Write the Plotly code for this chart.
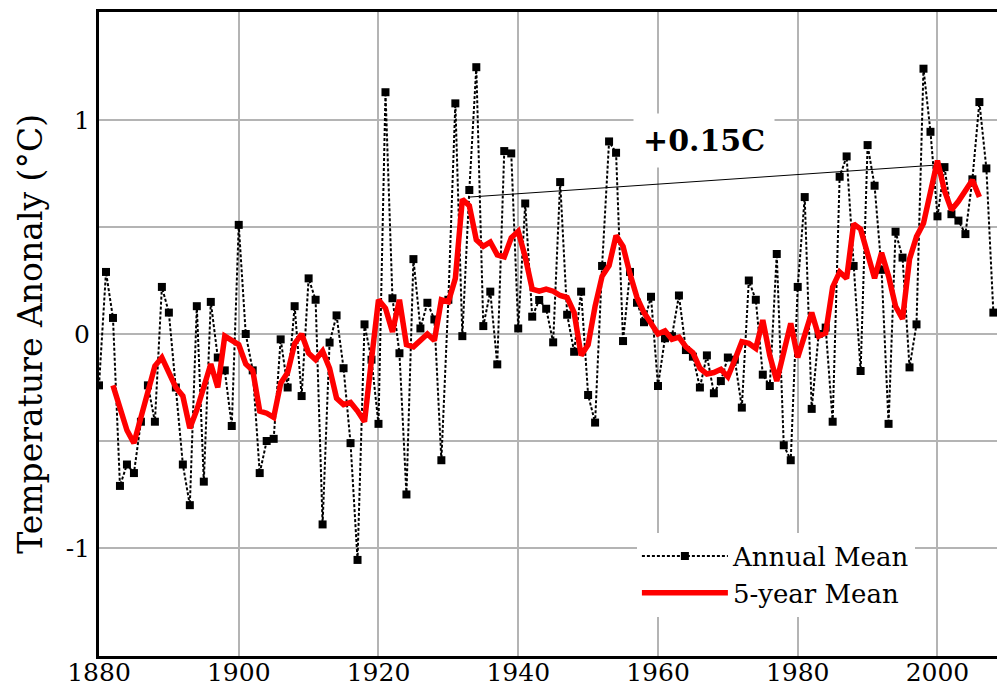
import plotly.graph_objects as go

years = list(range(1880, 2009))
annual_mean = [
    -0.24, 0.29, 0.075, -0.71, -0.61, -0.65, -0.41, -0.24, -0.41, 0.22,   # 1880-1889
    0.10, -0.25, -0.61, -0.80, 0.13, -0.69, 0.15, -0.11, -0.17, -0.43,    # 1890-1899
    0.51, 0.0, -0.17, -0.65, -0.50, -0.49, -0.025, -0.25, 0.13, -0.29,    # 1900-1909
    0.26, 0.16, -0.89, -0.04, 0.087, -0.16, -0.51, -1.056, 0.045, -0.12,  # 1910-1919
    -0.42, 1.13, 0.167, -0.09, -0.75, 0.35, 0.026, 0.146, 0.068, -0.59,   # 1920-1929
    0.16, 1.078, -0.01, 0.673, 1.247, 0.037, 0.198, -0.142, 0.855, 0.844, # 1930-1939
    0.026, 0.61, 0.081, 0.159, 0.118, -0.039, 0.71, 0.09, -0.083, 0.198,  # 1940-1949
    -0.285, -0.414, 0.318, 0.90, 0.847, -0.033, 0.29, 0.146, 0.055, 0.174,# 1950-1959
    -0.243, -0.02, -0.01, 0.18, -0.075, -0.106, -0.25, -0.10, -0.277, -0.22, # 1960-1969
    -0.11, -0.12, -0.344, 0.25, 0.16, -0.19, -0.243, 0.374, -0.52, -0.59, # 1970-1979
    0.22, 0.64, -0.35, 0.0, 0.03, -0.41, 0.735, 0.83, 0.318, -0.173,      # 1980-1989
    0.883, 0.693, 0.30, -0.42, 0.478, 0.357, -0.156, 0.045, 1.24, 0.945,  # 1990-1999
    0.55, 0.78, 0.56, 0.53, 0.467, 0.723, 1.084, 0.774, 0.10,             # 2000-2008
]

mean_years = list(range(1882, 2007))
five_year_mean = [
    -0.24, -0.35, -0.45, -0.51, -0.39, -0.25, -0.15, -0.11,               # 1882-1889
    -0.18, -0.25, -0.29, -0.44, -0.355, -0.25, -0.14, -0.25, -0.01, -0.03,# 1890-1899
    -0.05, -0.14, -0.17, -0.36, -0.37, -0.39, -0.23, -0.18, -0.045, 0.0,  # 1900-1909
    -0.09, -0.12, -0.08, -0.16, -0.30, -0.33, -0.32, -0.36, -0.41, -0.12, # 1910-1919
    0.16, 0.12, 0.01, 0.16, -0.05, -0.06, -0.03, 0.0, -0.03, 0.16,        # 1920-1929
    0.15, 0.26, 0.63, 0.60, 0.44, 0.41, 0.43, 0.37, 0.36, 0.45,           # 1930-1939
    0.48, 0.36, 0.21, 0.20, 0.21, 0.20, 0.18, 0.17, 0.10, -0.10,          # 1940-1949
    -0.05, 0.13, 0.27, 0.32, 0.46, 0.41, 0.28, 0.17, 0.10, 0.05,          # 1950-1959
    0.0, 0.015, -0.025, -0.015, -0.06, -0.087, -0.16, -0.187, -0.18, -0.165, # 1960-1969
    -0.20, -0.12, -0.036, -0.044, -0.067, 0.065, -0.10, -0.22, -0.09, 0.05,  # 1970-1979
    -0.11, -0.01, 0.10, -0.01, 0.005, 0.22, 0.29, 0.26, 0.515, 0.49,      # 1980-1989
    0.38, 0.26, 0.38, 0.27, 0.13, 0.07, 0.35, 0.455, 0.517, 0.665,        # 1990-1999
    0.81, 0.67, 0.58, 0.62, 0.665, 0.72, 0.64,                            # 2000-2006
]

trend_years = [1933, 2000]
trend_values = [0.64, 0.79]
trend_label = "+0.15C"

x_tick_vals = [1880, 1900, 1920, 1940, 1960, 1980, 2000]
y_tick_vals = [-1.0, -0.5, 0.0, 0.5, 1.0]
y_tick_text = ["-1", "", "0", "", "1"]

FONT = "DejaVu Serif"

fig = go.Figure()

fig.add_trace(go.Scatter(
    x=trend_years, y=trend_values, mode="lines",
    line=dict(color="black", width=1), showlegend=False, hoverinfo="skip",
))
fig.add_trace(go.Scatter(
    x=years, y=annual_mean, mode="lines+markers", name="Annual Mean",
    line=dict(color="black", width=2, dash="3px,2px"),
    marker=dict(symbol="square", size=8, color="black"),
))
fig.add_trace(go.Scatter(
    x=mean_years, y=five_year_mean, mode="lines", name="5-year Mean",
    line=dict(color="#ff0000", width=5.5),
))

fig.add_annotation(
    x=1966.6, y=0.905, xref="x", yref="y", text="<b>" + trend_label + "</b>",
    showarrow=False, font=dict(family=FONT, size=30, color="black"),
    bgcolor="white", borderpad=9,
)

fig.add_annotation(
    x=-0.0772, y=0.5, xref="paper", yref="paper", text="Temperature Anonaly (°C)",
    xanchor="center", yanchor="middle",
    textangle=-90, showarrow=False, font=dict(family=FONT, size=33, color="black"),
)

fig.update_layout(
    width=997, height=690,
    margin=dict(l=99, r=0, t=12, b=34, autoexpand=False),
    paper_bgcolor="white", plot_bgcolor="white",
    font=dict(family=FONT, size=25, color="black"),
    legend=dict(
        x=0.599, y=0.1916, xanchor="left", yanchor="top",
        bgcolor="white", borderwidth=0, itemwidth=86,
        font=dict(family=FONT, size=26, color="black"),
        tracegroupgap=0,
    ),
    xaxis=dict(
        range=[1880, 2008.52], tickvals=x_tick_vals, automargin=False,
        showgrid=True, gridcolor="rgb(180,180,180)", gridwidth=1.5,
        showline=True, linecolor="black", linewidth=3, mirror=True,
        ticks="", zeroline=False, tickfont=dict(family=FONT, size=25),
        ticklabelstandoff=-8,
    ),
    yaxis=dict(
        range=[-1.505, 1.505], tickvals=y_tick_vals, ticktext=y_tick_text,
        automargin=False,
        showgrid=True, gridcolor="rgb(180,180,180)", gridwidth=1.5,
        showline=True, linecolor="black", linewidth=3, mirror=False,
        ticks="outside", ticklen=1, tickcolor="rgba(0,0,0,0)",
        zeroline=False, tickfont=dict(family=FONT, size=25),
    ),
)

fig.write_html(
    "out.html",
    config={"displayModeBar": False},
    post_script="document.body.style.margin='0';document.body.style.overflow='hidden';",
)
